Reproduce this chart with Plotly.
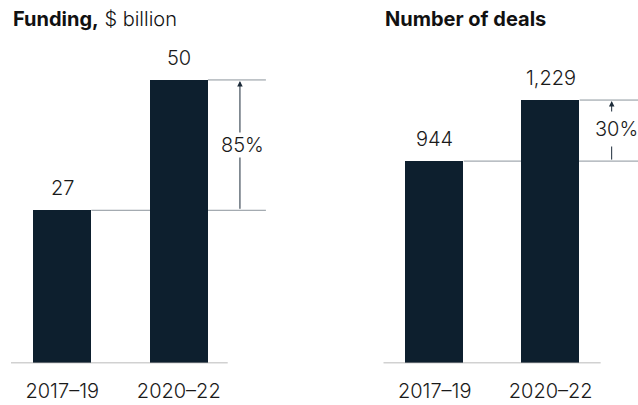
import plotly.graph_objects as go

# ---- data ----
periods = ["2017–19", "2020–22"]
funding = [27, 50]
funding_labels = ["27", "50"]
deals = [944, 1229]
deals_labels = ["944", "1,229"]
funding_change = "85%"
deals_change = "30%"

# ---- styling / layout constants ----
W, H = 638, 405
FONT = "Inter"
BAR = "#0d1f2e"
GREY = "#8b949c"
ARROW = "#1c2b39"
TXT = "#1a1a1a"
base_px = 363.3
left_scale = 5.667     # px per unit
right_scale = 0.2142   # px per unit

fig = go.Figure()
fig.add_trace(go.Bar(x=periods, y=funding, width=0.5, marker=dict(color=BAR, line=dict(width=0)),
                     xaxis="x", yaxis="y", hoverinfo="skip"))
fig.add_trace(go.Bar(x=periods, y=deals, width=0.5, marker=dict(color=BAR, line=dict(width=0)),
                     xaxis="x2", yaxis="y2", hoverinfo="skip"))

ydom = [1 - base_px / H, 1]
axis_common = dict(showgrid=False, zeroline=False, showline=False, ticks="",
                   tickfont=dict(family=FONT, size=20, color=TXT, weight=300), type="category",
                   ticklabelstandoff=14, fixedrange=True)
fig.update_layout(
    width=W, height=H, margin=dict(l=0, r=0, t=0, b=0), autosize=False,
    paper_bgcolor="white", plot_bgcolor="white", showlegend=False,
    xaxis=dict(domain=[11 / W, 270 / W], range=[-0.44, 1.783], anchor="y", **axis_common),
    xaxis2=dict(domain=[383.3 / W, 1.0], range=[-0.443, 1.753], anchor="y2", **axis_common),
    yaxis=dict(domain=ydom, range=[0, base_px / left_scale], visible=False, fixedrange=True),
    yaxis2=dict(domain=ydom, range=[0, base_px / right_scale], visible=False, fixedrange=True, anchor="x2"),
    bargap=0,
)

shapes = []
# baselines
shapes.append(dict(type="line", xref="x", yref="y", x0=-0.44, x1=1.42, y0=0, y1=0,
                   line=dict(color="#a3a3a3", width=1.5), layer="above"))
shapes.append(dict(type="line", xref="x2", yref="y2", x0=-0.443, x1=1.431, y0=0, y1=0,
                   line=dict(color="#a3a3a3", width=1.5), layer="above"))
# reference lines
for xr, yr, vals, xend in (("x", "y", funding, 1.748), ("x2", "y2", deals, 1.753)):
    shapes.append(dict(type="line", xref=xr, yref=yr, x0=0.25, x1=xend, y0=vals[0], y1=vals[0],
                       line=dict(color=GREY, width=1), layer="below"))
    shapes.append(dict(type="line", xref=xr, yref=yr, x0=1.25, x1=xend, y0=vals[1], y1=vals[1],
                       line=dict(color=GREY, width=1), layer="below"))
fig.update_layout(shapes=shapes)

LIGHT = dict(family=FONT, size=20, color=TXT, weight=300)
ann = []
# value labels
for xr, yr, vals, labs in (("x", "y", funding, funding_labels),
                           ("x2", "y2", deals, deals_labels)):
    for i, (v, lab) in enumerate(zip(vals, labs)):
        ann.append(dict(x=i, y=v, xref=xr, yref=yr, text=lab, showarrow=False,
                        yanchor="middle", yshift=22, font=LIGHT))
# arrows
for xr, yr, vals, ax_x in (("x", "y", funding, 1.525), ("x2", "y2", deals, 1.526)):
    ann.append(dict(x=ax_x, y=vals[1], ax=ax_x, ay=vals[0], xref=xr, yref=yr, axref=xr, ayref=yr,
                    text="", showarrow=True, arrowhead=2, arrowsize=1.1, arrowwidth=1,
                    arrowcolor=ARROW, standoff=1))
# change labels
ann.append(dict(x=1.549, y=(funding[0] + funding[1]) / 2, xref="x", yref="y", text=funding_change,
                showarrow=False, bgcolor="white", borderpad=0, font=LIGHT))
ann.append(dict(x=1.57, y=(deals[0] + deals[1]) / 2 + 9, xref="x2", yref="y2", text=deals_change,
                showarrow=False, bgcolor="white", borderpad=5, font=LIGHT))
# titles
ann.append(dict(x=11 / W, y=1 - 19 / H, xref="paper", yref="paper", xanchor="left", yanchor="middle",
                text="<b>Funding,</b> $ billion", showarrow=False,
                font=dict(family=FONT, size=20, color="#111111", weight=300)))
ann.append(dict(x=383 / W, y=1 - 19 / H, xref="paper", yref="paper", xanchor="left", yanchor="middle",
                text="<b>Number of deals</b>", showarrow=False,
                font=dict(family=FONT, size=20, color="#111111")))
fig.update_layout(annotations=ann)

fig.write_html("out.html")
